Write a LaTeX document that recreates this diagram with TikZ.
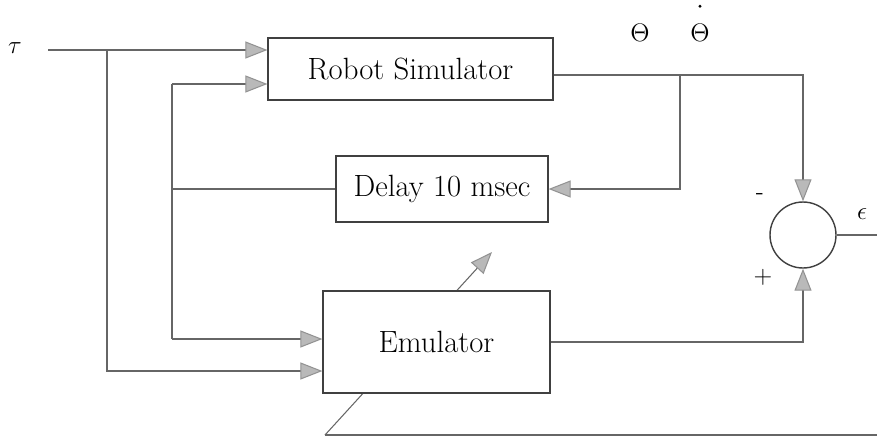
\documentclass[tikz,border=0pt]{standalone}
\usepackage{tikz}
\usetikzlibrary{positioning, arrows.meta, calc}
\tikzset{
  block/.style={rectangle, draw=black!75, line width=0.7pt, fill=white, text centered, font=\fontsize{17.5}{20}\selectfont},
  summer/.style={circle, draw=black!75, line width=0.8pt, minimum size=1.32cm, inner sep=0pt},
  wire/.style={draw=black!60, line width=0.6pt},
  arrow/.style={wire, -{Triangle[length=0.44cm, width=0.34cm, color=gray!85, fill=gray!55]}},
  sig/.style={font=\fontsize{14}{16}\selectfont, inner sep=1pt}
}

\begin{document}
\begin{tikzpicture}[x=0.02cm, y=-0.02cm]

    \useasboundingbox (0,0) rectangle (877,443);

    % Puntos de ruteo
    \coordinate (tin) at (48,50);
    \coordinate (j1) at (107,50);
    \coordinate (j2top) at (172,84);
    \coordinate (j2bot) at (172,339);
    \coordinate (lowlane) at (0,371);
    \coordinate (j3) at (680,75);
    \coordinate (rim) at (877,0);
    \coordinate (errback) at (877,435);
    \coordinate (adbase) at (325,435);
    \coordinate (adtip) at (492,252);

    % Flecha de adaptacion (queda tapada por el bloque)
    \draw[wire] (errback) -- (adbase);
    \draw[arrow] (adbase) -- (adtip);

    % Bloques
    \node[block, minimum width=5.7cm, minimum height=1.24cm] (robot) at (410.5,69) {Robot Simulator};
    \node[block, minimum width=4.24cm, minimum height=1.32cm] (delay) at (442,189) {Delay 10 msec};
    \node[block, minimum width=4.54cm, minimum height=2.04cm] (emu) at (436.5,342) {Emulator};
    \node[summer] (sum) at (803,235) {};

    % Etiquetas
    \node[sig] (tau) at (15,48) {$\tau$};
    \node[sig] (theta) at (640,33) {$\Theta$};
    \node[sig] (thetadot) at (700,33) {$\Theta$};
    \fill[black] ($(thetadot.north)+(0,-16)$) circle (1.6);
    \node[sig] (minus) at (760,197) {-};
    \node[sig] (plus) at (763,277) {+};
    \node[sig] (eps) at (862,214) {$\epsilon$};

    % Entradas
    \draw[arrow] (tin) -- (tin -| robot.west);
    \draw[arrow] (j1) |- (lowlane -| emu.west);
    \draw[arrow] (j2top) -- (j2top -| robot.west);
    \draw[wire] (j2top) -- (j2bot);
    \draw[arrow] (j2bot) -- (j2bot -| emu.west);
    \draw[wire] (delay.west) -- (delay.west -| j2top);

    % Salidas y comparador
    \draw[arrow] (j3 -| robot.east) -| (sum.north);
    \draw[arrow] (j3) |- (delay.east);
    \draw[arrow] (emu.east) -| (sum.south);
    \draw[wire] (sum.east) -- (sum.east -| rim);

\end{tikzpicture}
\end{document}
